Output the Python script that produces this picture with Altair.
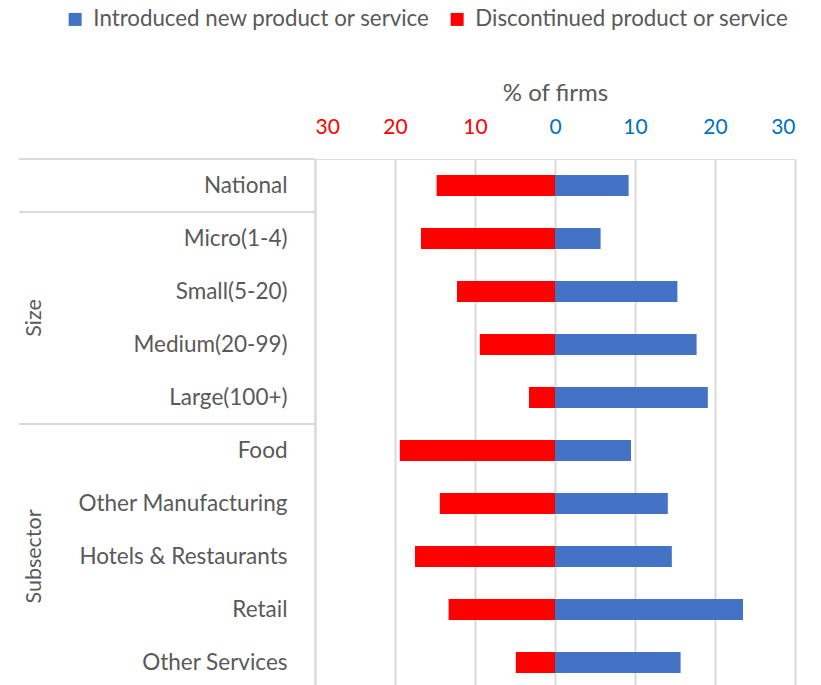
import altair as alt
import pandas as pd

categories = ["National", "Micro(1-4)", "Small(5-20)", "Medium(20-99)", "Large(100+)",
              "Food", "Other Manufacturing", "Hotels & Restaurants", "Retail", "Other Services"]
introduced = [9.2, 5.7, 15.3, 17.7, 19.1, 9.5, 14.1, 14.6, 23.5, 15.7]
discontinued = [14.8, 16.75, 12.25, 9.4, 3.25, 19.4, 14.4, 17.5, 13.3, 4.9]
series = ["Introduced new product or service", "Discontinued product or service"]
series_colors = ["#4472C4", "#FF0000"]
x_ticks = [-30, -20, -10, 0, 10, 20, 30]
sep_top = ["National", "Micro(1-4)", "Food"]
sep_bottom = ["Other Services"]
size_label = ["Size"]
size_anchor = ["Medium(20-99)"]
sub_label = ["Subsector"]
sub_anchor = ["Hotels & Restaurants"]

FONT = "Lato"
GRAY = "#595959"
LINE = "#D9D9D9"

rows = []
for c, v in zip(categories, introduced):
    rows.append({"category": c, "series": series[0], "value": v})
for c, v in zip(categories, discontinued):
    rows.append({"category": c, "series": series[1], "value": -v})
df = pd.DataFrame(rows)

yscale = alt.Scale(domain=categories, paddingInner=0, paddingOuter=0)

bars = alt.Chart(df).mark_bar(size=21).encode(
    x=alt.X("value:Q",
            scale=alt.Scale(domain=[-30, 30], nice=False, zero=False),
            axis=alt.Axis(orient="top", values=x_ticks, labelExpr="abs(datum.value)",
                          labelColor={"condition": {"test": "datum.value < 0", "value": "#FF0000"},
                                      "value": "#0070C0"},
                          labelFontSize=21, labelFont=FONT, labelPadding=22,
                          ticks=False, tickSize=0, domain=False,
                          grid=True, gridColor=LINE, gridWidth=2,
                          title="% of firms", titleFont=FONT, titleFontSize=24,
                          titleFontWeight="normal", titleColor=GRAY, titlePadding=11)),
    y=alt.Y("category:N", scale=yscale, sort=categories,
            axis=alt.Axis(title=None, labelFont=FONT, labelFontSize=22.5, labelColor=GRAY,
                          ticks=False, tickSize=0, labelPadding=28, labelLimit=400,
                          domain=True, domainColor=LINE, domainWidth=2)),
    color=alt.Color("series:N",
                    scale=alt.Scale(domain=series, range=series_colors),
                    legend=alt.Legend(title=None, orient="none", direction="horizontal",
                                      legendX=-251, legendY=-151,
                                      symbolType="square", symbolSize=169,
                                      symbolStrokeWidth=0, labelFont=FONT,
                                      labelFontSize=22.3, labelColor=GRAY,
                                      labelOffset=7, columnPadding=16,
                                      labelLimit=500)),
)

sep_top_df = pd.DataFrame({"category": sep_top})
sep_top_rules = alt.Chart(sep_top_df).mark_rule(color=LINE, strokeWidth=2).encode(
    y=alt.Y("category:N", scale=yscale, sort=categories, bandPosition=0),
    x=alt.value(-296), x2=alt.value(0),
)
sep_bot_df = pd.DataFrame({"category": sep_bottom})
sep_bot_rules = alt.Chart(sep_bot_df).mark_rule(color=LINE, strokeWidth=2).encode(
    y=alt.Y("category:N", scale=yscale, sort=categories, bandPosition=1),
    x=alt.value(-296), x2=alt.value(0),
)

size_df = pd.DataFrame({"category": size_anchor, "label": size_label})
size_text = alt.Chart(size_df).mark_text(angle=270, font=FONT, fontSize=21.5, color=GRAY,
                                         align="center", baseline="middle").encode(
    y=alt.Y("category:N", scale=yscale, sort=categories, bandPosition=0),
    x=alt.value(-280), text="label:N",
)
sub_df = pd.DataFrame({"category": sub_anchor, "label": sub_label})
sub_text = alt.Chart(sub_df).mark_text(angle=270, font=FONT, fontSize=21.5, color=GRAY,
                                       align="center", baseline="middle").encode(
    y=alt.Y("category:N", scale=yscale, sort=categories, bandPosition=0.5),
    x=alt.value(-280), text="label:N",
)

chart = alt.layer(bars, sep_top_rules, sep_bot_rules, size_text, sub_text).properties(
    width=480, height=530,
    autosize=alt.AutoSizeParams(type="none"),
    padding={"left": 315, "top": 159, "right": 26, "bottom": 0},
).configure_view(stroke=None).configure(background="white")

chart.save("out.html", embed_options={"renderer": "svg", "actions": False})
